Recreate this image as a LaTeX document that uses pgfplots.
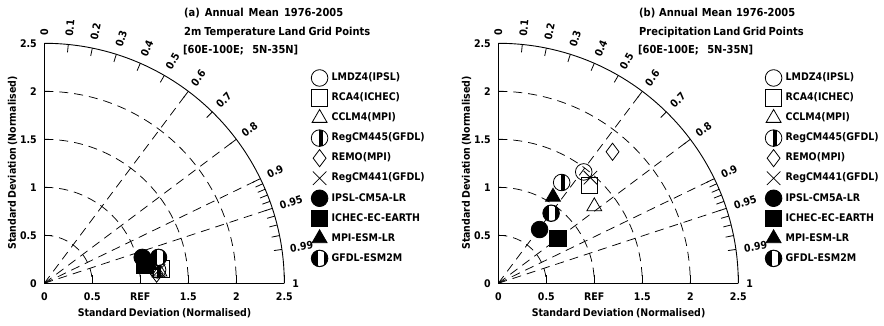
\documentclass[border=0pt]{standalone}
\usepackage{pgfplots}
\pgfplotsset{compat=1.18}
\usepackage{fontspec}
\setmainfont{DejaVu Sans Condensed}
\usetikzlibrary{plotmarks}

\newcommand\tkfont{\bfseries\fontsize{10.5}{12}\selectfont}
\newcommand\tfont{\bfseries\fontsize{11}{13}\selectfont}

\pgfdeclareplotmark{barcircle}{%
  \pgfpathcircle{\pgfpointorigin}{\pgfplotmarksize}%
  \pgfusepathqstroke
  \pgfscope
  \pgfpathcircle{\pgfpointorigin}{\pgfplotmarksize}%
  \pgfusepath{clip}%
  \pgfsetfillcolor{black}%
  \pgfpathrectanglecorners{\pgfqpoint{-0.08\pgfplotmarksize}{-\pgfplotmarksize}}{\pgfqpoint{0.45\pgfplotmarksize}{\pgfplotmarksize}}%
  \pgfusepathqfill
  \endpgfscope
}
\pgfdeclareplotmark{invbarcircle}{%
  \pgfsetfillcolor{black}%
  \pgfpathcircle{\pgfpointorigin}{\pgfplotmarksize}%
  \pgfusepathqfillstroke
  \pgfscope
  \pgfpathcircle{\pgfpointorigin}{0.9\pgfplotmarksize}%
  \pgfusepath{clip}%
  \pgfsetfillcolor{white}%
  \pgfpathrectanglecorners{\pgfqpoint{-0.2\pgfplotmarksize}{-\pgfplotmarksize}}{\pgfqpoint{0.5\pgfplotmarksize}{\pgfplotmarksize}}%
  \pgfusepathqfill
  \endpgfscope
}

\tikzset{tdash/.style={dash pattern=on 9pt off 6pt, line width=0.75pt}}

\pgfplotsset{
  m1/.style={black, mark=o, mark size=8.3pt, mark options={line width=0.8pt}},
  m2/.style={black, mark=square, mark size=8.2pt, mark options={line width=0.8pt}},
  m3/.style={black, mark=triangle, mark size=8.6pt, mark options={line width=0.8pt}},
  m4/.style={black, mark=barcircle, mark size=8.3pt, mark options={line width=0.8pt}},
  m5/.style={black, mark=diamond, mark size=8.6pt, mark options={line width=0.8pt}},
  m6/.style={black, mark=x, mark size=9.5pt, mark options={line width=0.8pt}},
  m7/.style={black, mark=*, mark size=8.3pt, mark options={line width=0.8pt}},
  m8/.style={black, mark=square*, mark size=8.2pt, mark options={line width=0.8pt}},
  m9/.style={black, mark=triangle*, mark size=8.6pt, mark options={line width=0.8pt}},
  m10/.style={black, mark=invbarcircle, mark size=8.3pt, mark options={line width=0.8pt}},
  taylor/.style={
    scale only axis, width=240pt, height=240pt,
    xmin=0, xmax=2.5, ymin=0, ymax=2.5,
    anchor=origin,
    axis x line=bottom, axis y line=left,
    axis line style={-, line width=0.9pt},
    clip=false,
    xtick={0,0.5,1,1.5,2,2.5}, xticklabels={0,0.5,REF,1.5,2,2.5},
    ytick={0,0.5,1,1.5,2,2.5}, yticklabels={0,0.5,1,1.5,2,2.5},
    tick align=inside, major tick length=8pt,
    tick style={line width=0.9pt, black},
    /pgf/number format/assume math mode=true,
    ticklabel style={font=\tkfont},
    xticklabel style={yshift=-6pt},
    yticklabel style={xshift=-4pt},
    every axis x label/.style={at={(axis description cs:0.5,0)}, anchor=center, yshift=-29.7pt, font=\tkfont},
    every axis y label/.style={at={(axis description cs:0,0.5)}, xshift=-31.8pt, rotate=90, anchor=center, font=\tkfont},
    xlabel={\makebox[173pt][s]{Standard Deviation (Normalised)}},
    ylabel={\makebox[173pt][s]{Standard Deviation (Normalised)}},
    only marks,
    legend cell align=left,
    legend style={at={(1.1125,0.8973)}, anchor=north west, draw=none, fill=none,
      inner sep=0pt, outer sep=0pt, row sep=0pt, column sep=3.7pt,
      font=\tkfont,
      nodes={inner sep=0pt, minimum height=20.05pt, text height=7.5pt, text depth=2pt, anchor=west}},
    legend image code/.code={\draw[##1] plot coordinates {(0pt,0pt)};},
  }
}

\newcommand\taylorgrid{%
  \draw[line width=0.9pt] (2.5,0) arc[start angle=0, end angle=90, radius=240pt];
  \foreach \r in {0.5,1,1.5,2} \draw[tdash] (0,\r) arc[start angle=90, end angle=0, radius=\r*96pt];
  \foreach \c in {0.6,0.8,0.9,0.95} \draw[tdash] (0,0) -- ({acos(\c)}:2.5);
  \foreach \c in {0.1,0.2,0.3,0.4,0.5,0.6,0.7,0.8,0.9,0.91,0.92,0.93,0.94,0.95,0.96,0.97,0.98,0.99}
    \draw[line width=0.8pt] ({acos(\c)}:2.5) -- ({acos(\c)}:2.417);
  \foreach \c in {0,0.1,0.2,0.3,0.4,0.5,0.6,0.7,0.8,0.9,0.95,0.99,1} {
    \pgfmathsetmacro\ang{acos(\c)}
    \node[rotate=\ang, anchor=west, inner sep=0pt, font=\tkfont] at (\ang:2.583) {\c};
  }
}

\begin{document}
\begin{tikzpicture}
\useasboundingbox (0,0) rectangle (884pt,326pt);

% ---------------- panel (a)
\begin{scope}[shift={(44.3pt,42.7pt)}, x=96pt, y=96pt]
\taylorgrid
\end{scope}
\node[anchor=west, inner sep=0pt, font=\tfont] at (184pt,312.5pt) {\makebox[159pt][s]{(a) Annual Mean 1976-2005}};
\node[anchor=west, inner sep=0pt, font=\tfont] at (184pt,294pt) {\makebox[186pt][s]{2m Temperature Land Grid Points}};
\node[anchor=west, inner sep=0pt, font=\tfont] at (183pt,276pt) {\makebox[115pt][s]{[60E-100E; 5N-35N]}};

\begin{axis}[taylor, at={(44.3pt,42.7pt)}]
\addplot[m1] coordinates {(1.03,0.26)};
\addlegendentry{LMDZ4(IPSL)}
\addplot[m2] coordinates {(1.22,0.15)};
\addlegendentry{RCA4(ICHEC)}
\addplot[m3] coordinates {(1.20,0.12)};
\addlegendentry{CCLM4(MPI)}
\addplot[m4] coordinates {(1.18,0.14)};
\addlegendentry{RegCM445(GFDL)}
\addplot[m5] coordinates {(1.17,0.10)};
\addlegendentry{REMO(MPI)}
\addplot[m6] coordinates {(1.19,0.13)};
\addlegendentry{RegCM441(GFDL)}
\addplot[m7] coordinates {(1.02,0.27)};
\addlegendentry{IPSL-CM5A-LR}
\addplot[m8] coordinates {(1.04,0.19)};
\addlegendentry{ICHEC-EC-EARTH}
\addplot[m9] coordinates {(1.10,0.19)};
\addlegendentry{MPI-ESM-LR}
\addplot[m10] coordinates {(1.19,0.27)};
\addlegendentry{GFDL-ESM2M}
\end{axis}

% ---------------- panel (b)
\begin{scope}[shift={(498.3pt,42.7pt)}, x=96pt, y=96pt]
\taylorgrid
\end{scope}
\node[anchor=west, inner sep=0pt, font=\tfont] at (639pt,312.5pt) {\makebox[156pt][s]{(b) Annual Mean 1976-2005}};
\node[anchor=west, inner sep=0pt, font=\tfont] at (639pt,294pt) {\makebox[160pt][s]{Precipitation Land Grid Points}};
\node[anchor=west, inner sep=0pt, font=\tfont] at (638pt,276pt) {\makebox[115pt][s]{[60E-100E; 5N-35N]}};

\begin{axis}[taylor, at={(498.3pt,42.7pt)}]
\addplot[m1] coordinates {(0.89,1.16)};
\addlegendentry{LMDZ4(IPSL)}
\addplot[m2] coordinates {(0.95,1.02)};
\addlegendentry{RCA4(ICHEC)}
\addplot[m3] coordinates {(1.00,0.80)};
\addlegendentry{CCLM4(MPI)}
\addplot[m4] coordinates {(0.66,1.05)};
\addlegendentry{RegCM445(GFDL)}
\addplot[m5] coordinates {(1.19,1.37)};
\addlegendentry{REMO(MPI)}
\addplot[m6] coordinates {(0.96,1.10)};
\addlegendentry{RegCM441(GFDL)}
\addplot[m7] coordinates {(0.43,0.56)};
\addlegendentry{IPSL-CM5A-LR}
\addplot[m8] coordinates {(0.62,0.47)};
\addlegendentry{ICHEC-EC-EARTH}
\addplot[m9] coordinates {(0.57,0.90)};
\addlegendentry{MPI-ESM-LR}
\addplot[m10] coordinates {(0.55,0.73)};
\addlegendentry{GFDL-ESM2M}
\end{axis}
\end{tikzpicture}
\end{document}
